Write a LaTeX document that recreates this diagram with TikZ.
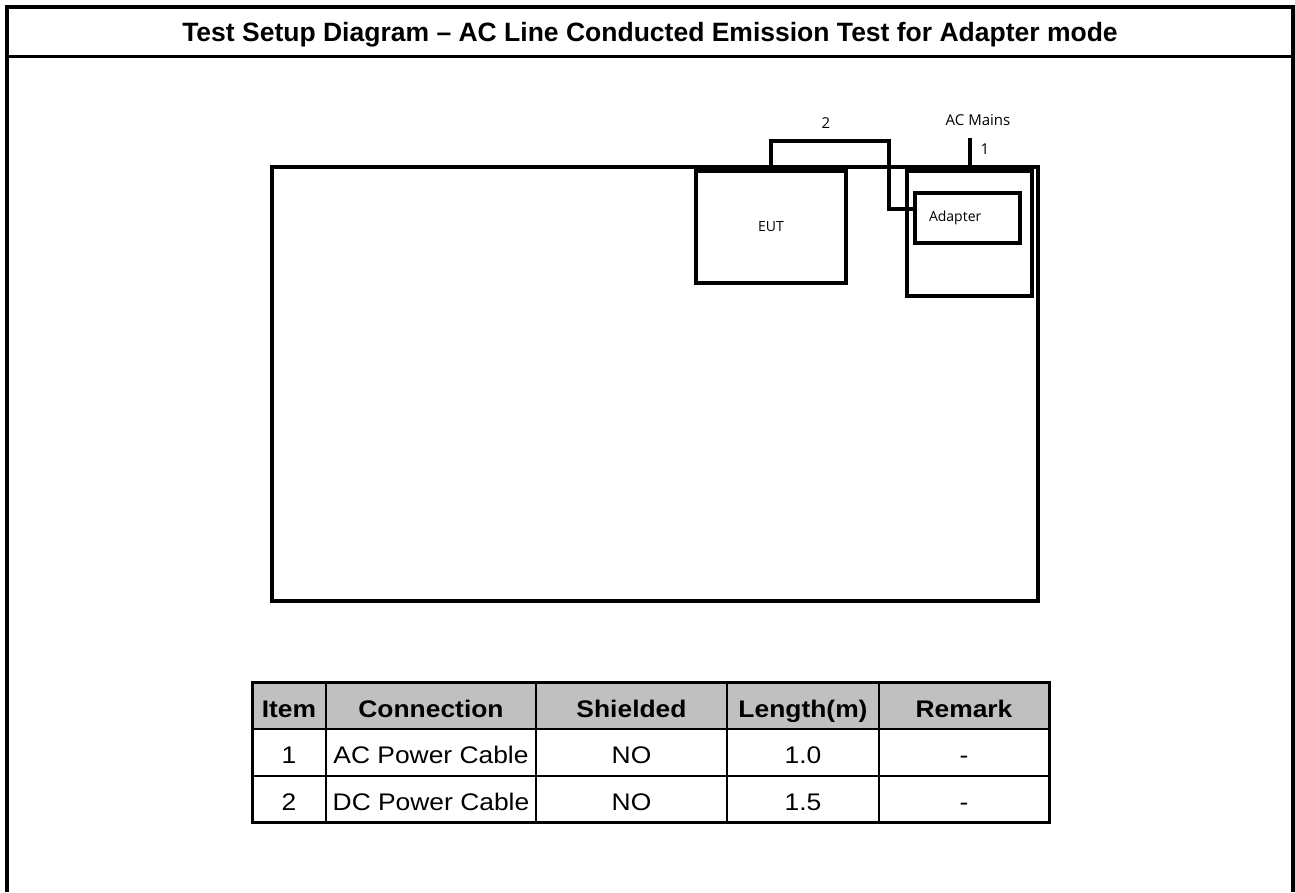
\documentclass[tikz,border=0pt]{standalone}
\usepackage{fontspec}
\setmainfont{Liberation Sans}
\newfontfamily\labelfont{Open Sans}
\newfontfamily\tablefont[FakeStretch=1.1]{Liberation Sans}
\usepackage{tikz}
\usetikzlibrary{positioning,calc}
\definecolor{headgray}{RGB}{192,192,192}

\begin{document}
\begin{tikzpicture}[
    x=1pt, y=-1pt,
    frame/.style={line width=4pt},
    unit/.style={draw, line width=4pt, inner sep=0pt, outer sep=0pt, font=\labelfont\fontsize{14}{16}\selectfont},
    cable/.style={line width=3.5pt},
    tag/.style={inner sep=0pt, font=\labelfont\fontsize{15}{18}\selectfont},
    cell/.style={anchor=base, inner sep=0pt, font=\tablefont\fontsize{24}{28}\selectfont},
    headcell/.style={anchor=base, inner sep=0pt, font=\tablefont\bfseries\fontsize{24}{28}\selectfont},
    rule/.style={line width=2.5pt}
]
\useasboundingbox (0,0) rectangle (1295,892);

% Page frame and title
\draw[frame] (7,892) -- (7,7) -- (1293,7) -- (1293,892);
\draw[line width=3pt] (7,56) -- (1293,56);
\node[anchor=base, inner sep=0pt, font=\bfseries\fontsize{26.5}{30}\selectfont] (title) at (650,41) {Test Setup Diagram – AC Line Conducted Emission Test for Adapter mode};

% Test table and units
\node[unit, minimum width=766pt, minimum height=434pt] (bench) at (655,384) {};
\node[unit, minimum width=150pt, minimum height=112pt] (eut) at (771,227) {EUT};
\node[unit, minimum width=125pt, minimum height=125pt] (adframe) at (969.5,233.5) {};
\node[unit, minimum width=105pt, minimum height=50pt, text width=77pt, align=left] (adapter) at (967.5,218) {Adapter};

% Cable labels
\node[tag] (acmains) at (978,120) {AC Mains};
\node[tag] (lbl1) at (985,149) {1};
\node[tag] (lbl2) at (826,123) {2};
\coordinate (mains) at (970,138);

% Cables
\draw[cable] (mains) -- (mains |- adframe.north);
\draw[cable] (eut.north) -- ++(0,-30) -- ++(118,0) |- ([yshift=9pt]adapter.west);

% Cable list
\fill[headgray] (252,682) rectangle (1049,729);
\foreach \y in {729,776} \draw[rule] (252,\y) -- (1049,\y);
\foreach \x in {326,536,727,879} \draw[rule] (\x,682) -- (\x,822);
\draw[line width=3pt] (252,682) rectangle (1049,822);

\foreach \x/\t [count=\i] in {289/Item, 431/Connection, 631.5/Shielded, 803/Length(m), 964/Remark}
  \node[headcell] (head\i) at (\x,717) {\t};
\foreach \x/\t [count=\i] in {289/1, 431/AC Power Cable, 631.5/NO, 803/1.0, 964/-}
  \node[cell] (rowa\i) at (\x,763) {\t};
\foreach \x/\t [count=\i] in {289/2, 431/DC Power Cable, 631.5/NO, 803/1.5, 964/-}
  \node[cell] (rowb\i) at (\x,810) {\t};

\end{tikzpicture}
\end{document}
